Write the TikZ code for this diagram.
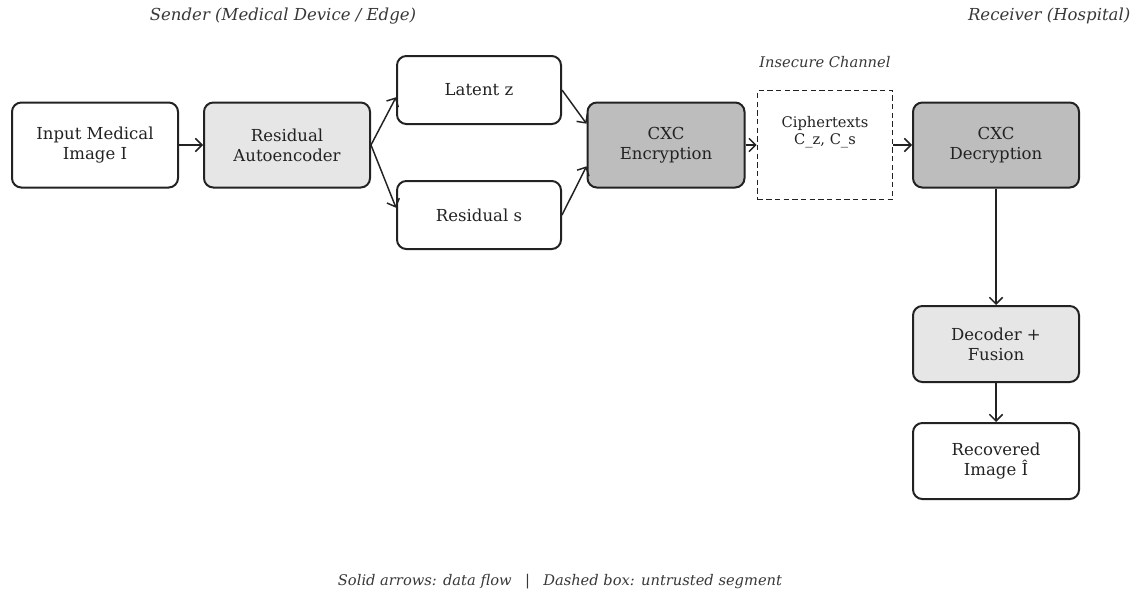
\documentclass[tikz,border=0pt]{standalone}
\usepackage{fontspec}
\setmainfont{DejaVu Serif}
\usetikzlibrary{arrows.meta, calc}

\definecolor{inkgray}{HTML}{222222}
\definecolor{lightfill}{HTML}{E6E6E6}
\definecolor{darkfill}{HTML}{BDBDBD}

\tikzset{
	block/.style={draw=inkgray, line width=1.5pt, rounded corners=7pt, align=center,
		inner sep=0pt, text=inkgray, font=\fontsize{12.4}{15}\selectfont},
	chanbox/.style={draw=inkgray, line width=1.3pt, dash pattern=on 4pt off 2.5pt, inner sep=0pt},
	note/.style={text=inkgray!90, font=\fontsize{11}{13}\selectfont\itshape},
	flow/.style={draw=inkgray, line width=1.1pt, -{Straight Barb[length=5pt, width=10pt]}},
}

\begin{document}
\begin{tikzpicture}[x=0.75pt, y=-0.75pt]
		\useasboundingbox (0,0) rectangle (1135,596);
		%headings
			\node [note, font=\fontsize{12.4}{14}\selectfont\itshape] (sender) at (283,16) {Sender (Medical Device / Edge)};
			\node [note, font=\fontsize{12.4}{14}\selectfont\itshape, anchor=east] (receiver) at (1135,16) {Receiver (Hospital)};
			\node [note] (insecure) at (825,62) {Insecure Channel};
		%sender side
			\node [block, minimum width=124.5pt, minimum height=63.75pt] (input) at (95,145) {Input Medical\\Image I};
			\node [block, fill=lightfill, minimum width=124.5pt, minimum height=63.75pt] (resae) at (287,145) {Residual\\Autoencoder};
			\node [block, minimum width=123pt, minimum height=51pt] (latent) at (479,90) {Latent z};
			\node [block, minimum width=123pt, minimum height=51pt] (resid) at (479,215) {Residual s};
			\node [block, fill=darkfill, minimum width=117.75pt, minimum height=63.75pt] (enc) at (666,145) {CXC\\Encryption};
		%channel
			\node [chanbox, minimum width=101.25pt, minimum height=81.75pt] (chan) at (825,145) {};
			\node [align=center, text=inkgray, font=\fontsize{11}{13}\selectfont] (cipher) at (825,132) {Ciphertexts\\C\_z, C\_s};
		%receiver side
			\node [block, fill=darkfill, minimum width=124.5pt, minimum height=63.75pt] (dec) at (996,145) {CXC\\Decryption};
			\node [block, fill=lightfill, minimum width=124.5pt, minimum height=57pt] (fusion) at (996,344) {Decoder +\\Fusion};
			\node [block, minimum width=124.5pt, minimum height=57pt] (recov) at (996,461) {Recovered\\Image Î};
		%arrows
			\draw [flow] (input) -- (resae);
			\draw [flow] (resae.east) -- (latent.185);
			\draw [flow] (resae.east) -- (resid.175);
			\draw [flow] (latent.east) -- (enc.165);
			\draw [flow] (resid.east) -- (enc.195);
			\draw [flow] (enc) -- (chan);
			\draw [flow] (chan) -- (dec);
			\draw [flow] (dec) -- (fusion);
			\draw [flow] (fusion) -- (recov);
		%legend
			\node [note] (legend) at (560,582) {Solid arrows: data flow\hspace{10pt}|\hspace{10pt}Dashed box: untrusted segment};
\end{tikzpicture}
\end{document}
